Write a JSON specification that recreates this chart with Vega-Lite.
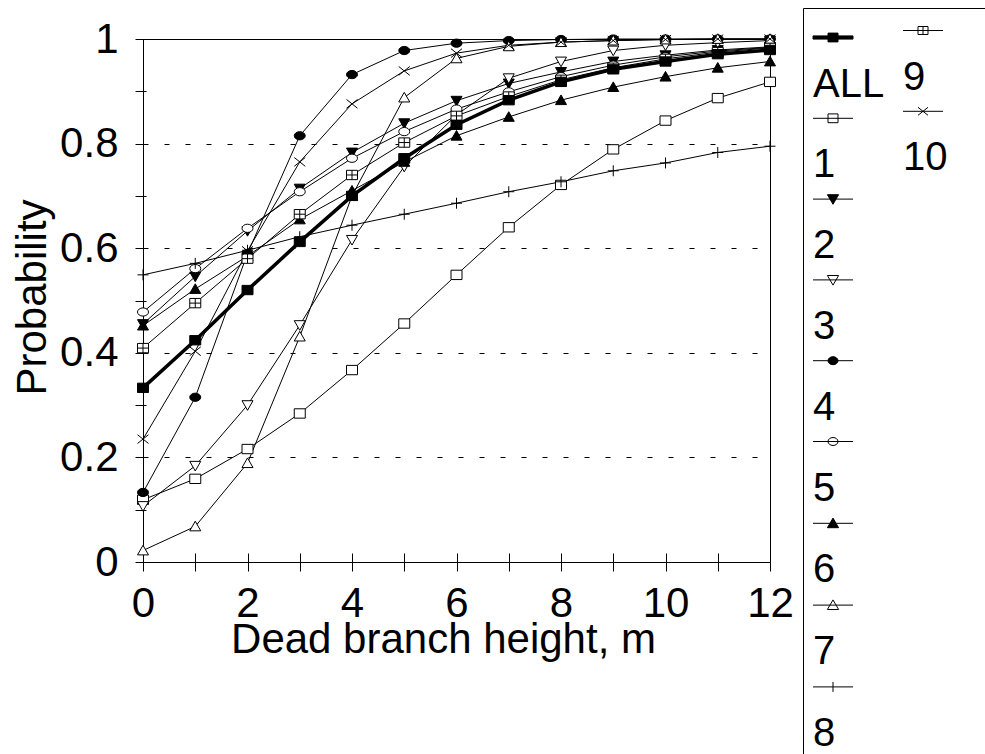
{
  "$schema": "https://vega.github.io/schema/vega-lite/v6.json",
  "width": 627,
  "height": 523,
  "autosize": {"type": "none"},
  "padding": {"left": 143, "top": 39, "right": 215, "bottom": 192},
  "background": "white",
  "data": {
    "values": [
      {"s":"1","h":0,"p":0.119},{"s":"1","h":1,"p":0.159},{"s":"1","h":2,"p":0.216},{"s":"1","h":3,"p":0.284},{"s":"1","h":4,"p":0.367},{"s":"1","h":5,"p":0.456},{"s":"1","h":6,"p":0.549},{"s":"1","h":7,"p":0.64},{"s":"1","h":8,"p":0.721},{"s":"1","h":9,"p":0.789},{"s":"1","h":10,"p":0.844},{"s":"1","h":11,"p":0.887},{"s":"1","h":12,"p":0.918},
      {"s":"2","h":0,"p":0.455},{"s":"2","h":1,"p":0.546},{"s":"2","h":2,"p":0.633},{"s":"2","h":3,"p":0.714},{"s":"2","h":4,"p":0.783},{"s":"2","h":5,"p":0.839},{"s":"2","h":6,"p":0.882},{"s":"2","h":7,"p":0.915},{"s":"2","h":8,"p":0.937},{"s":"2","h":9,"p":0.957},{"s":"2","h":10,"p":0.969},{"s":"2","h":11,"p":0.979},{"s":"2","h":12,"p":0.985},
      {"s":"3","h":0,"p":0.107},{"s":"3","h":1,"p":0.184},{"s":"3","h":2,"p":0.30},{"s":"3","h":3,"p":0.453},{"s":"3","h":4,"p":0.616},{"s":"3","h":5,"p":0.756},{"s":"3","h":6,"p":0.855},{"s":"3","h":7,"p":0.925},{"s":"3","h":8,"p":0.957},{"s":"3","h":9,"p":0.978},{"s":"3","h":10,"p":0.988},{"s":"3","h":11,"p":0.993},{"s":"3","h":12,"p":0.997},
      {"s":"4","h":0,"p":0.133},{"s":"4","h":1,"p":0.315},{"s":"4","h":2,"p":0.59},{"s":"4","h":3,"p":0.815},{"s":"4","h":4,"p":0.932},{"s":"4","h":5,"p":0.978},{"s":"4","h":6,"p":0.992},{"s":"4","h":7,"p":0.997},{"s":"4","h":8,"p":0.999},{"s":"4","h":9,"p":1},{"s":"4","h":10,"p":1},{"s":"4","h":11,"p":1},{"s":"4","h":12,"p":1},
      {"s":"5","h":0,"p":0.478},{"s":"5","h":1,"p":0.561},{"s":"5","h":2,"p":0.638},{"s":"5","h":3,"p":0.708},{"s":"5","h":4,"p":0.772},{"s":"5","h":5,"p":0.823},{"s":"5","h":6,"p":0.866},{"s":"5","h":7,"p":0.899},{"s":"5","h":8,"p":0.928},{"s":"5","h":9,"p":0.95},{"s":"5","h":10,"p":0.966},{"s":"5","h":11,"p":0.977},{"s":"5","h":12,"p":0.984},
      {"s":"6","h":0,"p":0.452},{"s":"6","h":1,"p":0.522},{"s":"6","h":2,"p":0.585},{"s":"6","h":3,"p":0.655},{"s":"6","h":4,"p":0.71},{"s":"6","h":5,"p":0.765},{"s":"6","h":6,"p":0.815},{"s":"6","h":7,"p":0.851},{"s":"6","h":8,"p":0.883},{"s":"6","h":9,"p":0.908},{"s":"6","h":10,"p":0.928},{"s":"6","h":11,"p":0.945},{"s":"6","h":12,"p":0.957},
      {"s":"7","h":0,"p":0.022},{"s":"7","h":1,"p":0.068},{"s":"7","h":2,"p":0.189},{"s":"7","h":3,"p":0.431},{"s":"7","h":4,"p":0.70},{"s":"7","h":5,"p":0.888},{"s":"7","h":6,"p":0.963},{"s":"7","h":7,"p":0.986},{"s":"7","h":8,"p":0.994},{"s":"7","h":9,"p":0.997},{"s":"7","h":10,"p":0.999},{"s":"7","h":11,"p":1},{"s":"7","h":12,"p":1},
      {"s":"8","h":0,"p":0.549},{"s":"8","h":1,"p":0.571},{"s":"8","h":2,"p":0.596},{"s":"8","h":3,"p":0.622},{"s":"8","h":4,"p":0.644},{"s":"8","h":5,"p":0.665},{"s":"8","h":6,"p":0.686},{"s":"8","h":7,"p":0.708},{"s":"8","h":8,"p":0.727},{"s":"8","h":9,"p":0.748},{"s":"8","h":10,"p":0.763},{"s":"8","h":11,"p":0.783},{"s":"8","h":12,"p":0.795},
      {"s":"9","h":0,"p":0.409},{"s":"9","h":1,"p":0.495},{"s":"9","h":2,"p":0.58},{"s":"9","h":3,"p":0.665},{"s":"9","h":4,"p":0.74},{"s":"9","h":5,"p":0.802},{"s":"9","h":6,"p":0.853},{"s":"9","h":7,"p":0.89},{"s":"9","h":8,"p":0.922},{"s":"9","h":9,"p":0.945},{"s":"9","h":10,"p":0.962},{"s":"9","h":11,"p":0.975},{"s":"9","h":12,"p":0.983},
      {"s":"10","h":0,"p":0.235},{"s":"10","h":1,"p":0.403},{"s":"10","h":2,"p":0.595},{"s":"10","h":3,"p":0.765},{"s":"10","h":4,"p":0.876},{"s":"10","h":5,"p":0.939},{"s":"10","h":6,"p":0.973},{"s":"10","h":7,"p":0.988},{"s":"10","h":8,"p":0.994},{"s":"10","h":9,"p":0.997},{"s":"10","h":10,"p":0.999},{"s":"10","h":11,"p":1},{"s":"10","h":12,"p":1},
      {"s":"ALL","h":0,"p":0.333},{"s":"ALL","h":1,"p":0.424},{"s":"ALL","h":2,"p":0.52},{"s":"ALL","h":3,"p":0.612},{"s":"ALL","h":4,"p":0.70},{"s":"ALL","h":5,"p":0.772},{"s":"ALL","h":6,"p":0.836},{"s":"ALL","h":7,"p":0.883},{"s":"ALL","h":8,"p":0.918},{"s":"ALL","h":9,"p":0.942},{"s":"ALL","h":10,"p":0.957},{"s":"ALL","h":11,"p":0.971},{"s":"ALL","h":12,"p":0.979}
    ]
  },
  "encoding": {
    "x": {"field": "h", "type": "quantitative", "scale": {"domain": [0, 12], "nice": false, "zero": false}, "axis": null},
    "y": {"field": "p", "type": "quantitative", "scale": {"domain": [0, 1], "nice": false}, "axis": null}
  },
  "layer": [
    {
      "transform": [{"filter": "datum.s !== 'ALL'"}],
      "mark": {"type": "line", "color": "black", "strokeWidth": 1},
      "encoding": {
        "x": {
          "field": "h", "type": "quantitative",
          "scale": {"domain": [0, 12], "nice": false, "zero": false},
          "axis": {
            "orient": "bottom",
            "title": "Dead branch height, m",
            "values": [0,1,2,3,4,5,6,7,8,9,10,11,12],
            "labelExpr": "datum.value % 2 == 0 ? datum.label : ''",
            "tickSize": 9,
            "labelPadding": 45,
            "labelBaseline": "alphabetic",
            "titleX": 300,
            "titleY": 90,
            "titleBaseline": "alphabetic",
            "grid": false
          }
        },
        "y": {
          "field": "p", "type": "quantitative",
          "scale": {"domain": [0, 1], "nice": false},
          "axis": {
            "orient": "left",
            "title": "Probability",
            "values": [0,0.1,0.2,0.3,0.4,0.5,0.6,0.7,0.8,0.9,1],
            "format": ".1~f",
            "labelExpr": "round(datum.value*10) % 2 == 0 ? datum.label : ''",
            "tickSize": 8,
            "labelPadding": 17,
            "titleX": -98,
            "titleY": 258,
            "titleBaseline": "alphabetic",
            "grid": true,
            "gridColor": "black",
            "gridDash": [5, 16],
            "gridOpacity": {"condition": {"test": "round(datum.value*10) % 2 == 0 && datum.value > 0.05 && datum.value < 0.95", "value": 1}, "value": 0}
          }
        },
        "detail": {"field": "s", "type": "nominal"}
      }
    },
    {
      "transform": [{"filter": "datum.s === 'ALL'"}],
      "mark": {"type": "line", "color": "black", "strokeWidth": 3.5},
      "encoding": {
        "x": {
          "field": "h", "type": "quantitative",
          "scale": {"domain": [0, 12], "nice": false, "zero": false},
          "axis": {
            "orient": "bottom", "title": null, "labels": false, "domain": false, "grid": false,
            "values": [0,1,2,3,4,5,6,7,8,9,10,11,12],
            "tickSize": -9
          }
        },
        "y": {
          "field": "p", "type": "quantitative",
          "scale": {"domain": [0, 1], "nice": false},
          "axis": {
            "orient": "left", "title": null, "labels": false, "domain": false, "grid": false,
            "values": [0,0.1,0.2,0.3,0.4,0.5,0.6,0.7,0.8,0.9,1],
            "tickSize": -3
          }
        }
      }
    },
    {
      "mark": {"type": "point", "filled": true, "stroke": "black", "strokeWidth": 1, "size": 121, "opacity": 1},
      "encoding": {
        "shape": {
          "field": "s", "type": "nominal", "legend": null,
          "scale": {
            "domain": ["ALL","1","2","3","4","5","6","7","8","9","10"],
            "range": [
              "M-1,-0.85H1V0.85H-1Z",
              "M-1,-0.85H1V0.85H-1Z",
              "M-1,-0.8H1L0,0.95Z",
              "M-1,-0.8H1L0,0.95Z",
              "M1,0A1,0.75,0,1,1,-1,0A1,0.75,0,1,1,1,0Z",
              "M1,0A1,0.75,0,1,1,-1,0A1,0.75,0,1,1,1,0Z",
              "M-1,0.8H1L0,-0.95Z",
              "M-1,0.8H1L0,-0.95Z",
              "M-1,0H1M0,-1V1",
              "M-1,-0.85H1V0.85H-1ZM0,-0.85V0.85M-1,0H1",
              "M-1,-0.8L1,0.8M-1,0.8L1,-0.8"
            ]
          }
        },
        "fill": {
          "field": "s", "type": "nominal", "legend": null,
          "scale": {
            "domain": ["ALL","1","2","3","4","5","6","7","8","9","10"],
            "range": ["black","white","black","white","black","white","black","white","white","white","white"]
          }
        }
      }
    },
    {
      "transform": [{"filter": "datum.h == 0 && indexof(['ALL','1','2','3','4','5','6','7','8'], datum.s) >= 0"}],
      "mark": {"type": "point", "filled": true, "stroke": "black", "strokeWidth": 1, "size": 0, "opacity": 1},
      "encoding": {
        "shape": {
          "field": "s", "type": "nominal",
          "scale": {
            "domain": ["ALL","1","2","3","4","5","6","7","8"],
            "range": [
              "M-1,-2.43H1V-2.27H-1ZM-0.25,-2.57H0.25V-2.13H-0.25Z",
              "M-1,-2.35H1M-0.25,-2.57H0.25V-2.13H-0.25Z",
              "M-1,-2.35H1M-0.28,-2.57H0.28L0,-2.09Z",
              "M-1,-2.35H1M-0.28,-2.57H0.28L0,-2.09Z",
              "M-1,-2.35H1M0.25,-2.35A0.25,0.2,0,1,1,-0.25,-2.35A0.25,0.2,0,1,1,0.25,-2.35Z",
              "M-1,-2.35H1M0.25,-2.35A0.25,0.2,0,1,1,-0.25,-2.35A0.25,0.2,0,1,1,0.25,-2.35Z",
              "M-1,-2.35H1M-0.28,-2.13H0.28L0,-2.61Z",
              "M-1,-2.35H1M-0.28,-2.13H0.28L0,-2.61Z",
              "M-1,-2.35H1M0,-2.6V-2.1"
            ]
          },
          "legend": {
            "orient": "none", "legendX": 660, "legendY": -31,
            "title": " ", "titleOrient": "right", "titlePadding": 100, "titleFontSize": 10,
            "strokeColor": "black", "padding": 56,
            "symbolSize": 1600, "symbolStrokeColor": "black", "symbolStrokeWidth": 1, "symbolOpacity": 1, "symbolFillColor": "white",
            "symbolOffset": -46.5,
            "labelFont": "Liberation Sans", "labelFontSize": 40, "labelColor": "black",
            "labelOffset": -40.5, "labelBaseline": "middle", "labelAlign": "left",
            "rowPadding": 6.8
          }
        },
        "fill": {
          "field": "s", "type": "nominal",
          "scale": {
            "domain": ["ALL","1","2","3","4","5","6","7","8"],
            "range": ["black","white","black","white","black","white","black","white","white"]
          },
          "legend": {
            "orient": "none", "legendX": 660, "legendY": -31,
            "title": " ", "titleOrient": "right", "titlePadding": 100, "titleFontSize": 10,
            "strokeColor": "black", "padding": 56,
            "symbolSize": 1600, "symbolStrokeColor": "black", "symbolStrokeWidth": 1, "symbolOpacity": 1, "symbolFillColor": "white",
            "symbolOffset": -46.5,
            "labelFont": "Liberation Sans", "labelFontSize": 40, "labelColor": "black",
            "labelOffset": -40.5, "labelBaseline": "middle", "labelAlign": "left",
            "rowPadding": 6.8
          }
        }
      }
    },
    {
      "transform": [{"filter": "datum.h == 0 && (datum.s == '9' || datum.s == '10')"}],
      "mark": {"type": "point", "filled": true, "stroke": "black", "strokeWidth": 1, "size": 0, "opacity": 1},
      "encoding": {
        "shape": {
          "field": "s", "type": "nominal",
          "scale": {
            "domain": ["9","10"],
            "range": [
              "M-1,-2.35H1M-0.25,-2.55H0.25V-2.15H-0.25ZM0,-2.55V-2.15",
              "M-1,-2.35H1M-0.25,-2.55L0.25,-2.15M-0.25,-2.15L0.25,-2.55"
            ]
          },
          "legend": {
            "orient": "none", "legendX": 806, "legendY": 18,
            "title": null, "padding": 0,
            "symbolSize": 1600, "symbolStrokeColor": "black", "symbolStrokeWidth": 1, "symbolOpacity": 1, "symbolFillColor": "white",
            "symbolOffset": -46.5,
            "labelFont": "Liberation Sans", "labelFontSize": 40, "labelColor": "black",
            "labelOffset": -40.5, "labelBaseline": "middle", "labelAlign": "left",
            "rowPadding": 6.8
          }
        },
        "fill": {
          "field": "s", "type": "nominal",
          "scale": {"domain": ["9","10"], "range": ["white","white"]},
          "legend": {
            "orient": "none", "legendX": 806, "legendY": 18,
            "title": null, "padding": 0,
            "symbolSize": 1600, "symbolStrokeColor": "black", "symbolStrokeWidth": 1, "symbolOpacity": 1, "symbolFillColor": "white",
            "symbolOffset": -46.5,
            "labelFont": "Liberation Sans", "labelFontSize": 40, "labelColor": "black",
            "labelOffset": -40.5, "labelBaseline": "middle", "labelAlign": "left",
            "rowPadding": 6.8
          }
        }
      }
    }
  ],
  "resolve": {
    "scale": {"shape": "independent", "fill": "independent"},
    "legend": {"shape": "independent", "fill": "independent"},
    "axis": {"x": "independent", "y": "independent"}
  },
  "config": {
    "font": "Liberation Sans",
    "view": {"stroke": "black", "strokeWidth": 1},
    "axis": {
      "labelFont": "Liberation Sans", "labelFontSize": 42, "labelColor": "black",
      "titleFont": "Liberation Sans", "titleFontSize": 42, "titleFontWeight": "normal", "titleColor": "black",
      "domainColor": "black", "domainWidth": 1, "tickColor": "black", "tickWidth": 1,
      "labelOverlap": false, "labelFlush": false
    }
  }
}
